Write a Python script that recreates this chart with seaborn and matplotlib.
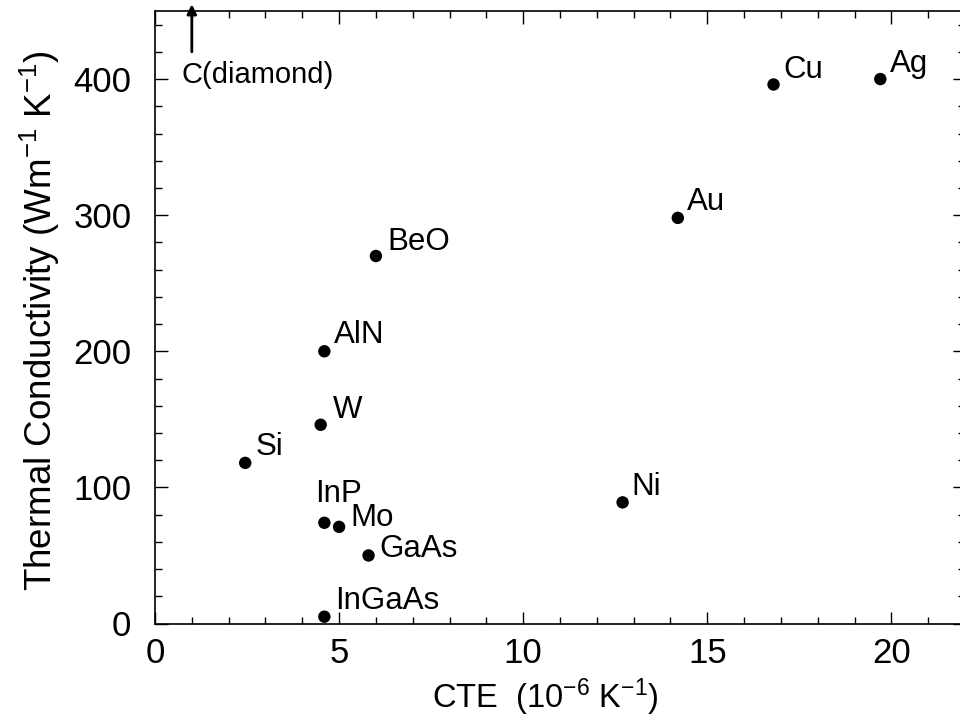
import matplotlib
matplotlib.use("Agg")
import matplotlib.pyplot as plt
import seaborn as sns
import pandas as pd
from matplotlib.ticker import MultipleLocator

# ---- data ----
materials = ["Cu", "Ag", "Au", "BeO", "AlN", "W", "Si", "Ni", "InP", "Mo", "GaAs", "InGaAs"]
cte = [16.8, 19.7, 14.2, 6.0, 4.6, 4.5, 2.45, 12.7, 4.6, 5.0, 5.8, 4.6]
conductivity = [396, 400, 298, 270, 200, 146, 118, 89, 74, 71, 50, 5]
diamond_label = "C(diamond)"
diamond_cte = 1.0

xlabel = r"CTE  (10$^{-6}$ K$^{-1}$)"
ylabel = r"Thermal Conductivity (Wm$^{-1}$ K$^{-1}$)"

df = pd.DataFrame({"material": materials, "cte": cte, "k": conductivity})

# label offsets (pixels) – layout only
offsets = {
    "Cu": (10, 15), "Ag": (10, 15), "Au": (9, 16), "BeO": (11, 14),
    "AlN": (10, 16), "W": (12, 15), "Si": (10, 16), "Ni": (9, 15),
    "InP": (-9, 29), "Mo": (11, 9), "GaAs": (11, 6), "InGaAs": (11, 16),
}

sns.set_theme(style="ticks")
plt.rcParams["font.family"] = ["Liberation Sans", "DejaVu Sans"]
plt.rcParams["mathtext.default"] = "regular"
for key in ["text.color", "axes.labelcolor", "xtick.color", "ytick.color",
            "axes.edgecolor"]:
    plt.rcParams[key] = "black"

fig = plt.figure(figsize=(9.6, 7.25), dpi=100)
ax = fig.add_axes([155 / 960, 101.5 / 725, 810 / 960, 612.5 / 725])

sns.scatterplot(data=df, x="cte", y="k", ax=ax, color="black", s=80,
                edgecolor="none", linewidth=0, legend=False, zorder=3)

for m, x, y in zip(materials, cte, conductivity):
    dx, dy = offsets[m]
    ax.annotate(m, xy=(x, y), xytext=(dx, dy), textcoords="offset pixels",
                ha="left", va="center", fontsize=22.5, color="black")

ax.set_xlim(0, 22)
ax.set_ylim(0, 450)

# diamond arrow (off-scale)
ax.annotate("", xy=(diamond_cte, 455), xytext=(diamond_cte, 420),
            arrowprops=dict(arrowstyle="-|>", lw=2, color="black",
                            mutation_scale=14, shrinkA=0, shrinkB=0),
            annotation_clip=False)
ax.text(diamond_cte - 0.27, 403, diamond_label, ha="left", va="center",
        fontsize=21, color="black")

ax.xaxis.set_major_locator(MultipleLocator(5))
ax.xaxis.set_minor_locator(MultipleLocator(1))
ax.yaxis.set_major_locator(MultipleLocator(100))
ax.yaxis.set_minor_locator(MultipleLocator(20))
ax.tick_params(which="both", direction="in", top=True, right=True,
               color="black", width=1)
ax.tick_params(which="major", length=9)
ax.tick_params(which="minor", length=5)
ax.tick_params(axis="x", which="major", labelsize=25, pad=10, labelcolor="black")
ax.tick_params(axis="y", which="major", labelsize=25, pad=17, labelcolor="black")

for sp in ax.spines.values():
    sp.set_visible(True)
    sp.set_color("black")
    sp.set_linewidth(1.2)

ax.set_xlabel(xlabel, fontsize=23.5)
ax.set_ylabel(ylabel, fontsize=26.5)
ax.xaxis.set_label_coords((545 - 155) / 810, -(697 - 623.5) / 612.5)
ax.yaxis.set_label_coords(-(155 - 40) / 810, (623.5 - 321) / 612.5)
ax.xaxis.label.set_va("center")
ax.yaxis.label.set_va("center")

fig.savefig("out.png", dpi=100)
